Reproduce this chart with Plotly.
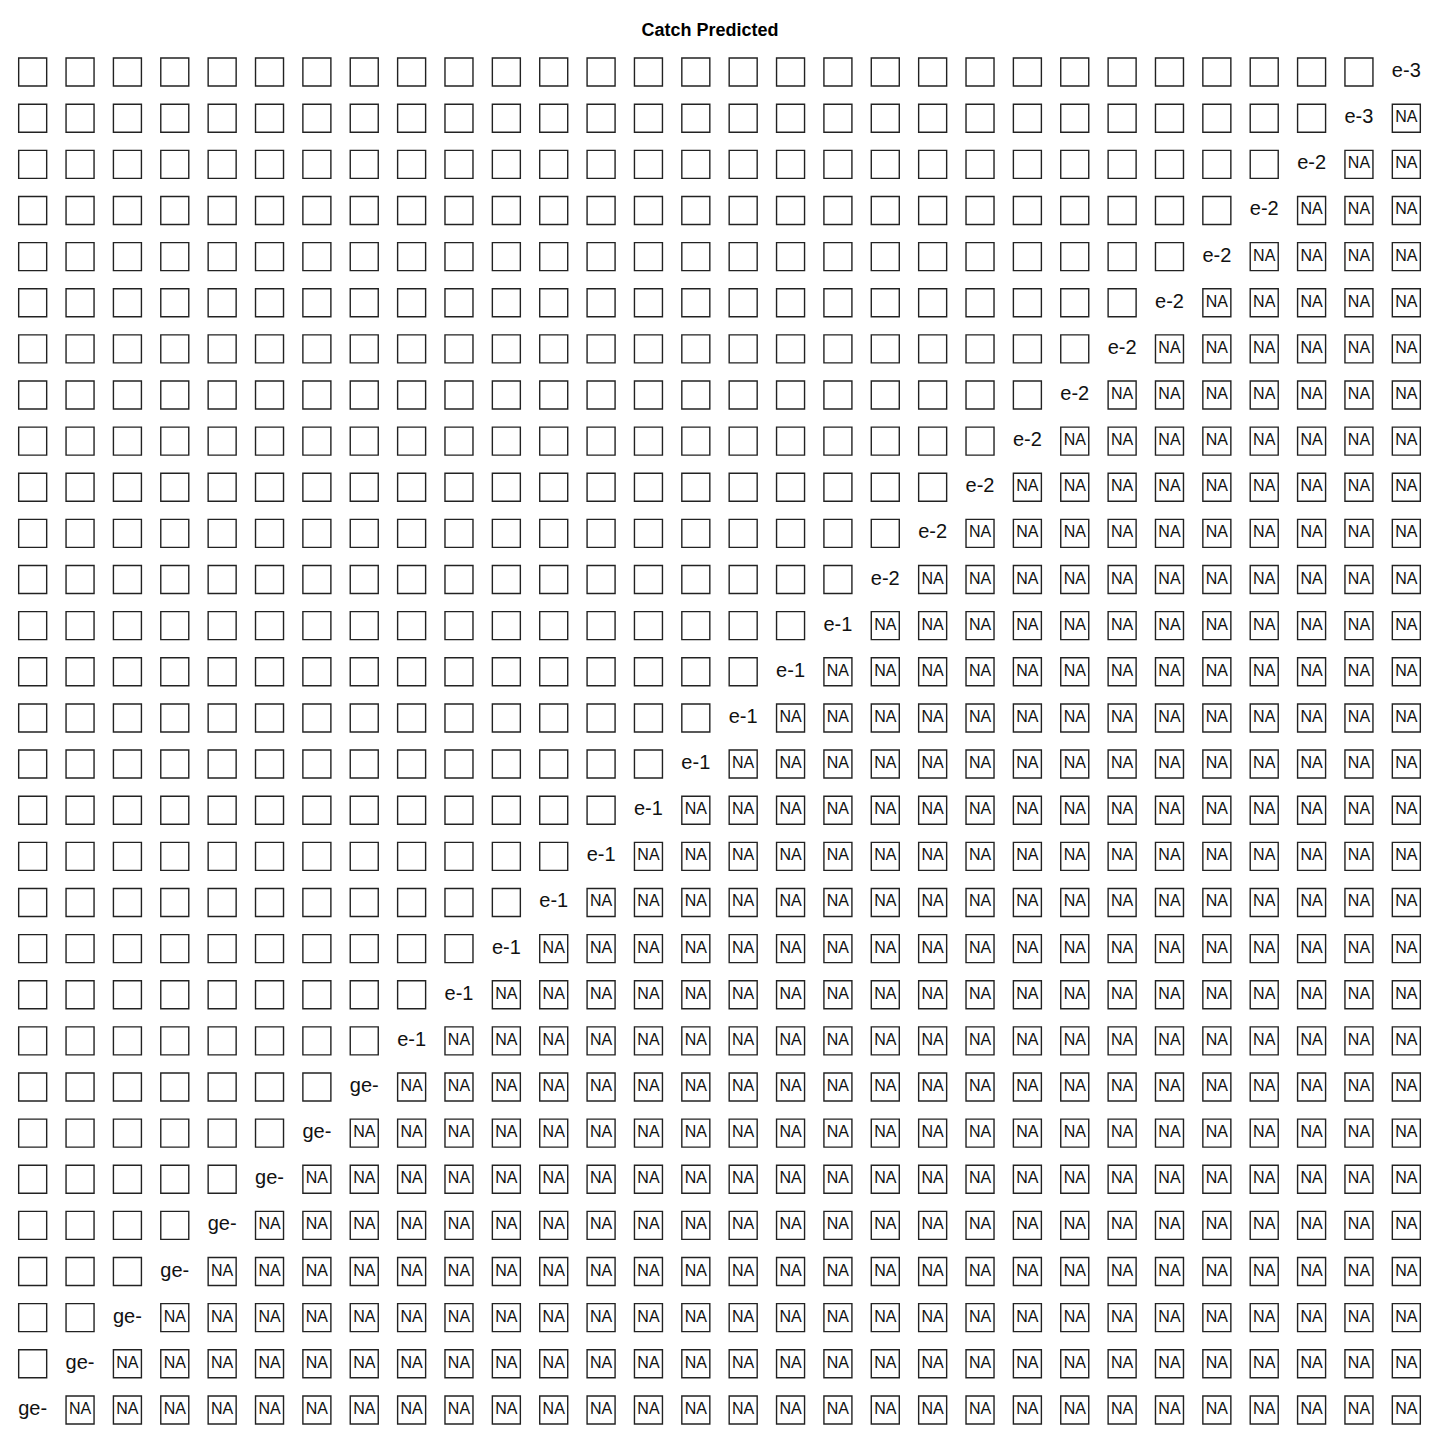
import plotly.graph_objects as go

# ---- data ----
n_rows = 30
n_cols = 30
row_ids = list(range(1, n_rows + 1))
col_ids = list(range(1, n_cols + 1))
# visible (clipped) value text on the anti-diagonal, one per row (top to bottom)
diag_text = ["e-3", "e-3"] + ["e-2"] * 10 + ["e-1"] * 10 + ["ge-"] * 8
na_label = "NA"
title_text = "Catch Predicted"

# ---- build cells ----
empty_x, empty_y = [], []
na_x, na_y = [], []
dg_x, dg_y, dg_t = [], [], []
for i, r in enumerate(row_ids):
    for j, c in enumerate(col_ids):
        k = i + j
        if k < n_cols - 1:
            empty_x.append(c); empty_y.append(r)
        elif k == n_cols - 1:
            dg_x.append(c); dg_y.append(r); dg_t.append(diag_text[i])
        else:
            na_x.append(c); na_y.append(r)

line_col = "#222222"
fig = go.Figure()
fig.add_trace(go.Scatter(
    x=empty_x, y=empty_y, mode="markers",
    marker=dict(symbol="square-open", size=28, color=line_col, line=dict(width=1.4, color=line_col)),
    hoverinfo="skip", showlegend=False))
fig.add_trace(go.Scatter(
    x=na_x, y=na_y, mode="markers+text", text=[na_label] * len(na_x),
    textposition="middle center",
    textfont=dict(family="Liberation Sans, Arial, sans-serif", size=16, color="#111111"),
    marker=dict(symbol="square-open", size=28, color=line_col, line=dict(width=1.4, color=line_col)),
    hoverinfo="skip", showlegend=False))
fig.add_trace(go.Scatter(
    x=dg_x, y=dg_y, mode="text", text=dg_t, textposition="middle center",
    textfont=dict(family="Liberation Sans, Arial, sans-serif", size=20, color="#111111"),
    hoverinfo="skip", showlegend=False))

fig.update_layout(
    width=1440, height=1440,
    paper_bgcolor="white", plot_bgcolor="white",
    margin=dict(l=9, r=10, t=49, b=7),
    title=dict(text="<b>" + title_text + "</b>", x=0.493, xanchor="center", y=1 - 30 / 1440, yanchor="middle",
               font=dict(family="Liberation Sans, Arial, sans-serif", size=18, color="black")),
    xaxis=dict(range=[0.5, n_cols + 0.5], visible=False, showgrid=False, zeroline=False),
    yaxis=dict(range=[n_rows + 0.5, 0.5], visible=False, showgrid=False, zeroline=False),
)
fig.write_html("out.html")
